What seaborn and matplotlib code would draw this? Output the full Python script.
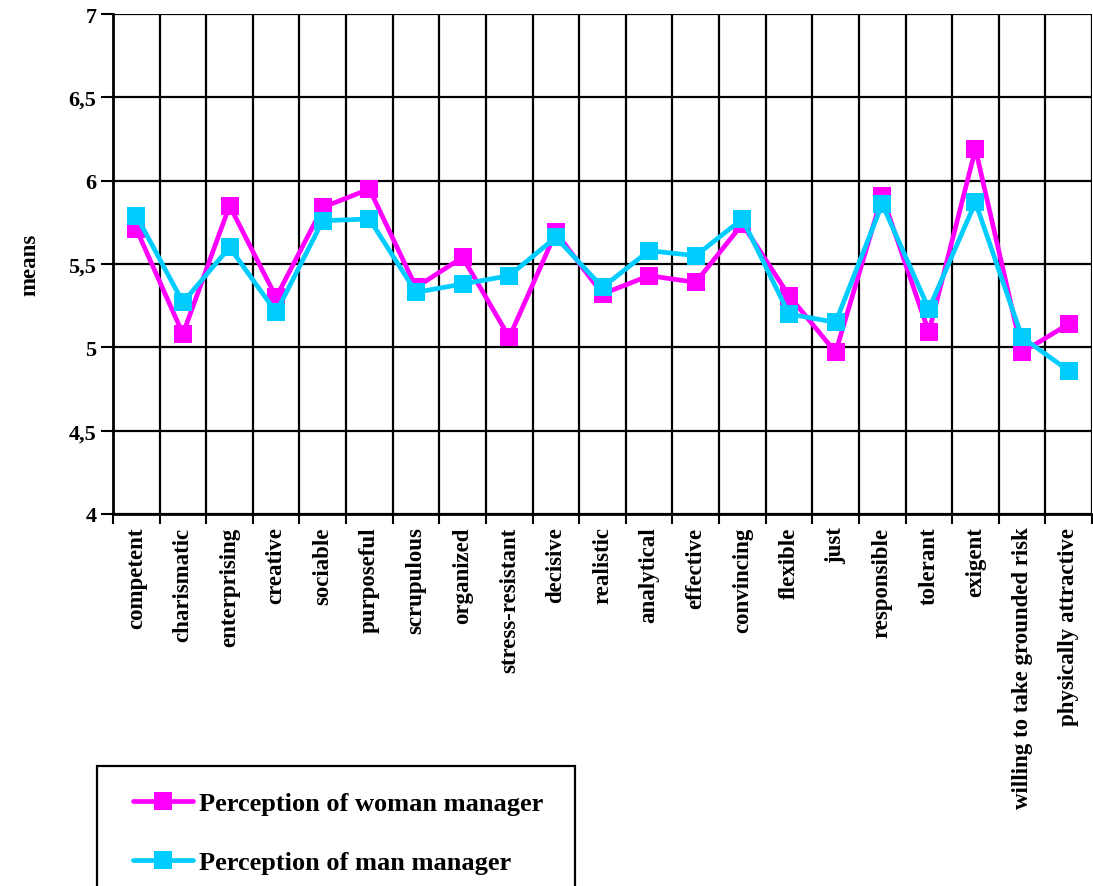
import pandas as pd
import numpy as np
import matplotlib
matplotlib.use('Agg')
import matplotlib.pyplot as plt
import matplotlib.patches as mpatches
from matplotlib.ticker import FuncFormatter, MultipleLocator
import seaborn as sns

# traits on the x axis
traits = ['competent', 'charismatic', 'enterprising', 'creative', 'sociable',
          'purposeful', 'scrupulous', 'organized', 'stress-resistant', 'decisive',
          'realistic', 'analytical', 'effective', 'convincing', 'flexible', 'just',
          'responsible', 'tolerant', 'exigent', 'willing to take grounded risk',
          'physically attractive']

# means
woman = [5.71, 5.08, 5.85, 5.30, 5.84, 5.95, 5.36, 5.54, 5.06, 5.69,
         5.32, 5.43, 5.39, 5.74, 5.31, 4.97, 5.91, 5.09, 6.19, 4.97, 5.14]
man = [5.79, 5.27, 5.60, 5.21, 5.76, 5.77, 5.33, 5.38, 5.43, 5.66,
       5.36, 5.58, 5.55, 5.77, 5.20, 5.15, 5.86, 5.23, 5.87, 5.06, 4.86]

series_names = ['Perception of woman manager', 'Perception of man manager']

df = pd.DataFrame({
    'trait': traits * 2,
    'pos': list(range(len(traits))) * 2,
    'mean': woman + man,
    'series': [series_names[0]] * len(traits) + [series_names[1]] * len(traits),
})

sns.set_style('white')
plt.rcParams['font.family'] = ['Liberation Serif', 'DejaVu Serif']
plt.rcParams['font.weight'] = 'bold'
for key in ['text.color', 'axes.labelcolor', 'xtick.color', 'ytick.color']:
    plt.rcParams[key] = 'black'

fig = plt.figure(figsize=(10.93, 8.87), dpi=100)
ax = fig.add_axes([113 / 1093, 1 - 515 / 887, 979 / 1093, 500 / 887])

palette = {series_names[0]: '#FF00FF', series_names[1]: '#00CCFF'}
sns.lineplot(data=df, x='pos', y='mean', hue='series', style='series',
             palette=palette, markers=['s', 's'], dashes=False,
             linewidth=3.4, markersize=13, markeredgewidth=0, ax=ax)

ax.set_xlim(-0.5, len(traits) - 0.5)
ax.set_ylim(4, 7)
ax.yaxis.set_major_locator(MultipleLocator(0.5))
ax.yaxis.set_major_formatter(FuncFormatter(lambda v, p: ('%g' % v).replace('.', ',')))

ax.set_xticks(range(len(traits)))
ax.set_xticklabels(traits, rotation=90, fontsize=16.5, fontweight='bold')
ax.set_xticks(np.arange(-0.5, len(traits)), minor=True)
ax.tick_params(axis='x', which='major', length=0, pad=9)
ax.tick_params(axis='x', which='minor', length=7, width=1.5, color='black', direction='out')
ax.tick_params(axis='y', which='major', length=9, width=1.5, color='black',
               direction='out', labelsize=16, pad=3)
ax.tick_params(left=True, bottom=True, which='both')
for lab in ax.get_yticklabels():
    lab.set_fontweight('bold')

ax.grid(False)
ax.grid(True, axis='y', which='major', color='black', linewidth=1.6)
ax.grid(True, axis='x', which='minor', color='black', linewidth=1.6)
ax.set_axisbelow(True)

for side in ['top', 'right']:
    ax.spines[side].set_visible(False)
for side in ['left', 'bottom']:
    ax.spines[side].set_color('black')
    ax.spines[side].set_linewidth(2)

ax.set_xlabel('')
ax.set_ylabel('means', fontsize=16.5, fontweight='bold', labelpad=20)

# legend in a framed box under the chart
handles, labels = ax.get_legend_handles_labels()
ax.get_legend().remove()
fig.patches.append(mpatches.Rectangle((97 / 1093, -0.05), 478 / 1093, 0.05 + 1 - 767 / 887,
                                      transform=fig.transFigure, fill=False,
                                      edgecolor='black', linewidth=1.6))
fig.legend(handles, labels, loc='upper left', bbox_to_anchor=(122 / 1093, 1 - 782 / 887),
           frameon=False, prop={'family': 'Liberation Serif', 'weight': 'bold', 'size': 19},
           handlelength=2.3, handletextpad=0.2, labelspacing=1.35, borderaxespad=0)

fig.savefig('out.png', dpi=100)
